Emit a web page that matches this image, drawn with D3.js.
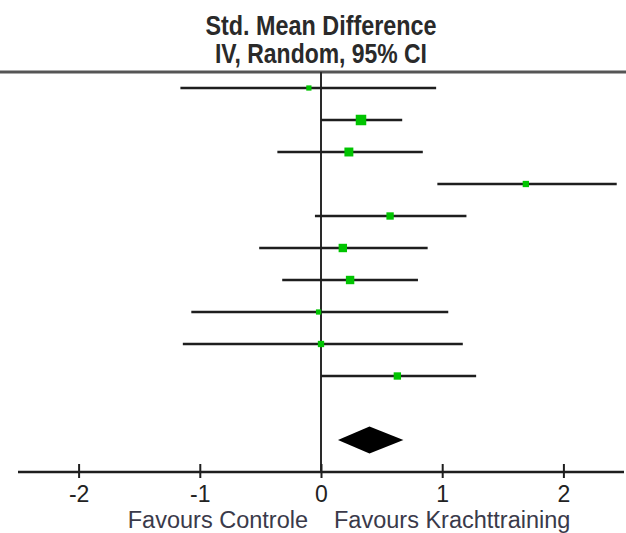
<!DOCTYPE html>
<html>
<head>
<meta charset="utf-8">
<script src="https://cdn.jsdelivr.net/npm/d3@7/dist/d3.min.js"></script>
<style>
  html, body { margin: 0; padding: 0; background: #fff; }
  svg { display: block; }
  text { font-family: "Liberation Sans", Arial, sans-serif; }
</style>
</head>
<body>
<svg id="chart" width="626" height="533"></svg>
<script>
// ---- data ----
const studies   = ["Study 1","Study 2","Study 3","Study 4","Study 5","Study 6","Study 7","Study 8","Study 9","Study 10"];
const estimate  = [-0.10, 0.33, 0.23, 1.69, 0.57, 0.18, 0.24, -0.02, 0.00, 0.63];
const lower     = [-1.16, 0.00, -0.36, 0.96, -0.05, -0.51, -0.32, -1.07, -1.14, 0.00];
const upper     = [ 0.95, 0.67, 0.84, 2.44, 1.20, 0.88, 0.80, 1.05, 1.17, 1.28];
const weight    = [4.8, 19.2, 13.9, 6.9, 9.4, 12.3, 12.3, 4.8, 6.9, 9.4];
const pooled    = { est: 0.40, lo: 0.14, hi: 0.68 };
const tickVals  = [-2, -1, 0, 1, 2];
const title     = ["Std. Mean Difference", "IV, Random, 95% CI"];
const leftLabel = "Favours Controle";
const rightLabel= "Favours Krachttraining";

// ---- layout ----
const svg = d3.select("#chart");
const W = 626;
const rowsDomain = studies.concat(["", "Total"]);

const x = d3.scaleLinear().domain([-2.5, 2.5]).range([18, 624]);
const y = d3.scalePoint().domain(rowsDomain).range([88, 440]);
const size = d3.scaleSqrt().domain([0, d3.max(weight)]).range([0, 10.5]);

const topY = 72, axisY = 472;
const green = "#00c400";

// top rule
svg.append("line")
  .attr("x1", 0).attr("x2", W).attr("y1", topY).attr("y2", topY)
  .attr("stroke", "#555").attr("stroke-width", 3);

// title
svg.selectAll("text.title").data(title).enter().append("text")
  .attr("class", "title")
  .attr("x", x(0)).attr("y", (d, i) => 35 + i * 28)
  .attr("text-anchor", "middle")
  .attr("font-size", 28).attr("font-weight", "bold")
  .attr("fill", "#2a2a2a")
  .attr("textLength", (d, i) => i === 0 ? 231 : 212)
  .attr("lengthAdjust", "spacingAndGlyphs")
  .text(d => d);

// zero line
svg.append("line")
  .attr("x1", x(0)).attr("x2", x(0)).attr("y1", topY).attr("y2", axisY)
  .attr("stroke", "#2a2a2a").attr("stroke-width", 2);

const data = studies.map((s, i) => ({ s, est: estimate[i], lo: lower[i], hi: upper[i], w: weight[i] }));

// CI lines
svg.selectAll("line.ci").data(data).enter().append("line")
  .attr("class", "ci")
  .attr("x1", d => x(d.lo)).attr("x2", d => x(d.hi))
  .attr("y1", d => y(d.s)).attr("y2", d => y(d.s))
  .attr("stroke", "#1e1e1e").attr("stroke-width", 2.5);

// squares
svg.selectAll("rect.pt").data(data).enter().append("rect")
  .attr("class", "pt")
  .attr("x", d => x(d.est) - size(d.w) / 2)
  .attr("y", d => y(d.s) - size(d.w) / 2)
  .attr("width", d => size(d.w)).attr("height", d => size(d.w))
  .attr("fill", green);

// pooled diamond
const yt = y("Total");
svg.append("path")
  .attr("d", `M${x(pooled.lo)},${yt} L${x(pooled.est)},${yt - 13.5} L${x(pooled.hi)},${yt} L${x(pooled.est)},${yt + 13.5} Z`)
  .attr("fill", "#000");

// axis
const axis = d3.axisBottom(x).tickValues(tickVals).tickSize(7).tickPadding(12).tickFormat(d => String(d));
const gAxis = svg.append("g").attr("transform", `translate(0,${axisY})`).call(axis);
gAxis.select(".domain").attr("stroke", "#1e1e1e").attr("stroke-width", 2.5)
  .attr("d", `M${x.range()[0]},0H${x.range()[1]}`);
gAxis.selectAll(".tick line").attr("y1", -8).attr("y2", 6).attr("stroke", "#1e1e1e").attr("stroke-width", 2);
gAxis.selectAll(".tick text")
  .attr("font-family", "'Liberation Sans', Arial, sans-serif")
  .attr("font-size", 23).attr("fill", "#222")
  .attr("dy", null).attr("y", 30);

// axis labels
svg.append("text")
  .attr("x", 308).attr("y", 528).attr("text-anchor", "end")
  .attr("font-size", 23.5).attr("fill", "#3a3a4a")
  .text(leftLabel);
svg.append("text")
  .attr("x", 334).attr("y", 528).attr("text-anchor", "start")
  .attr("font-size", 23.5).attr("fill", "#3a3a4a")
  .text(rightLabel);
</script>
</body>
</html>
